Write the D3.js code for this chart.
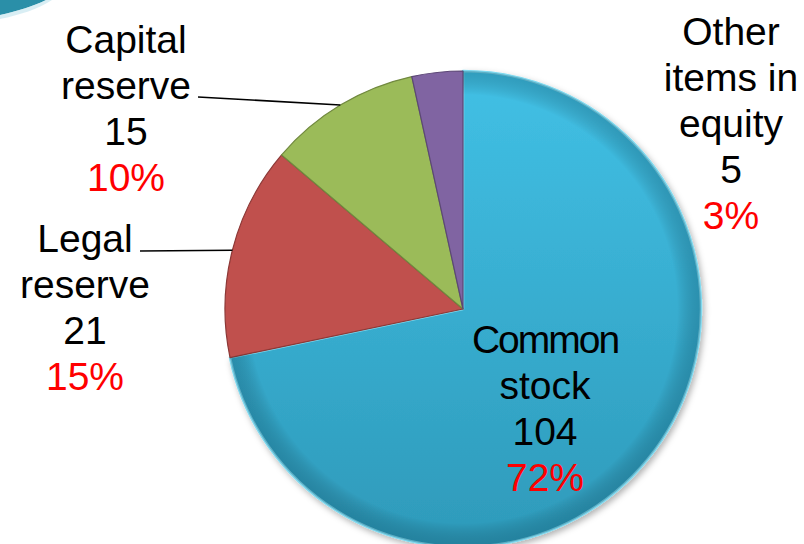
<html>
<head>
  <meta charset="UTF-8">
  <script src="https://d3js.org/d3.v7.min.js"></script>
  <style>
    body { margin: 0; background: #fff; }
    text { font-family: "Liberation Sans", Arial, sans-serif; }
  </style>
</head>
<body>
  <svg id="chart" width="804" height="544"></svg>

  <script>
    // Data
    const categories = [ "Common stock", "Legal reserve", "Capital reserve", "Other items in equity" ];
    const values = [ 104, 21, 15, 5 ];
    const percents = [ "72%", "15%", "10%", "3%" ];
    const colors = [ "url(#gCommon)", "#c0504d", "#9bbb59", "#8064a2" ];
    const strokes = [ "#7fd8ee", "#8c3836", "#71893f", "#5c4776" ];

    // Label lines (name lines, then value, then percent)
    const labelLines = [
      [ "Common", "stock" ],
      [ "Legal", "reserve" ],
      [ "Capital", "reserve" ],
      [ "Other", "items in", "equity" ]
    ];
    // centre x and first baseline of each label block
    const labelPos = [ [ 545, 353 ], [ 85, 252 ], [ 126, 53 ], [ 731, 45 ] ];

    const cx = 463, cy = 309, radius = 238;
    const lineH = 46;

    const svg = d3.select( "#chart" );
    const defs = svg.append( "defs" );

    // common stock gradient
    const lg = defs.append( "linearGradient" ).attr( "id", "gCommon" )
      .attr( "x1", 0 ).attr( "y1", 0 ).attr( "x2", 0 ).attr( "y2", 1 );
    lg.append( "stop" ).attr( "offset", "0%" ).attr( "stop-color", "#41c0e5" );
    lg.append( "stop" ).attr( "offset", "100%" ).attr( "stop-color", "#2e9aba" );

    const rg = defs.append( "radialGradient" ).attr( "id", "gEdge" )
      .attr( "cx", 0 ).attr( "cy", 0 ).attr( "r", radius ).attr( "gradientUnits", "userSpaceOnUse" );
    rg.append( "stop" ).attr( "offset", "90%" ).attr( "stop-color", "#000" ).attr( "stop-opacity", 0 );
    rg.append( "stop" ).attr( "offset", "100%" ).attr( "stop-color", "#0a4a60" ).attr( "stop-opacity", 0.3 );

    const shadow = defs.append( "filter" ).attr( "id", "shadow" )
      .attr( "x", "-10%" ).attr( "y", "-10%" ).attr( "width", "120%" ).attr( "height", "120%" );
    shadow.append( "feDropShadow" ).attr( "dx", 2 ).attr( "dy", 3 ).attr( "stdDeviation", 3 )
      .attr( "flood-color", "#000" ).attr( "flood-opacity", 0.3 );

    // Top-left decoration swoosh
    svg.append( "path" )
      .attr( "d", "M0,0 L46,0 C34,6 18,11 0,15 Z" )
      .attr( "fill", "#2a8fa8" );
    svg.append( "path" )
      .attr( "d", "M0,15 C18,11 34,6 46,0 L52,0 C38,9 20,15 0,19 Z" )
      .attr( "fill", "#bfe3ec" ).attr( "opacity", 0.6 );

    // Pie
    const pie = d3.pie().sort( null ).value( d => d );
    const arcs = pie( values );
    const arc = d3.arc().innerRadius( 0 ).outerRadius( radius );

    const g = svg.append( "g" ).attr( "transform", "translate(" + cx + "," + cy + ")" );

    g.selectAll( "path.slice" )
      .data( arcs ).enter()
      .append( "path" )
      .attr( "class", "slice" )
      .attr( "d", arc )
      .attr( "fill", ( d, i ) => colors[ i ] )
      .attr( "stroke", ( d, i ) => strokes[ i ] )
      .attr( "stroke-width", ( d, i ) => i === 0 ? 2.5 : 1.2 )
      .attr( "stroke-linejoin", "round" )
      .attr( "filter", ( d, i ) => i === 0 ? "url(#shadow)" : null );

    // edge shading on common slice
    g.append( "path" )
      .attr( "d", arc( arcs[ 0 ] ) )
      .attr( "fill", "url(#gEdge)" );

    // Leader lines for Capital and Legal reserve, to the slice mid-angle
    const leaders = [
      { i: 2, from: [ 198, 97 ] },
      { i: 1, from: [ 140, 251 ] }
    ];
    leaders.forEach( l => {
      const a = arcs[ l.i ];
      const ang = ( a.startAngle + a.endAngle ) / 2;
      const px = cx + radius * Math.sin( ang ), py = cy - radius * Math.cos( ang );
      svg.append( "path" )
        .attr( "d", "M" + l.from[ 0 ] + "," + l.from[ 1 ] + " L" + px + "," + py )
        .attr( "stroke", "#000" ).attr( "stroke-width", 1.6 ).attr( "fill", "none" );
    } );

    // Labels
    categories.forEach( ( c, i ) => {
      const lines = labelLines[ i ].concat( [ String( values[ i ] ) ] );
      const t = svg.append( "text" )
        .attr( "text-anchor", "middle" )
        .attr( "font-size", 39 );
      lines.forEach( ( s, k ) => {
        t.append( "tspan" )
          .attr( "x", labelPos[ i ][ 0 ] )
          .attr( "y", labelPos[ i ][ 1 ] + k * lineH )
          .attr( "fill", "#000" )
          .attr( "letter-spacing", s === "Common" ? -2 : 0 )
          .text( s );
      } );
      t.append( "tspan" )
        .attr( "x", labelPos[ i ][ 0 ] )
        .attr( "y", labelPos[ i ][ 1 ] + lines.length * lineH )
        .attr( "fill", "#ff0000" )
        .text( percents[ i ] );
    } );
  </script>
</body>
</html>
